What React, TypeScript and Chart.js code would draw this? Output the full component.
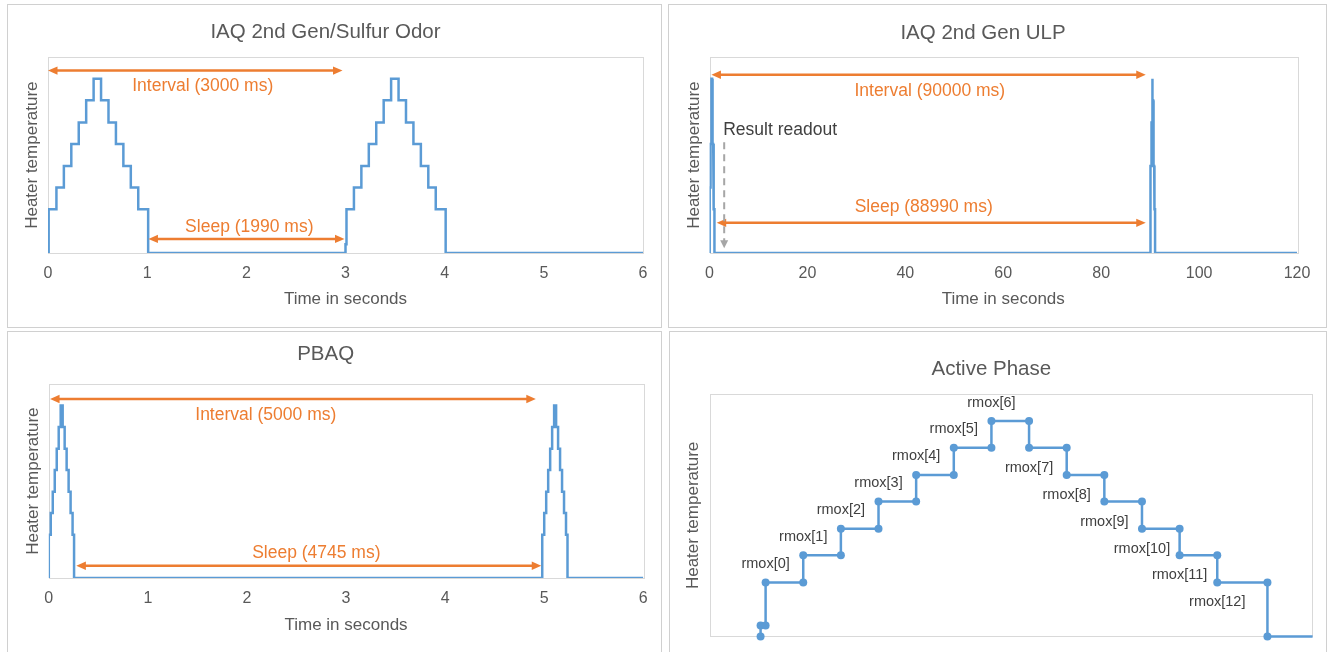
import React, { useEffect, useRef } from 'react';
import { Chart, registerables } from 'chart.js';

Chart.register(...registerables);

const FONT = '"Liberation Sans", Arial, Helvetica, sans-serif';
const BLUE = '#5B9BD5';
const ORANGE = '#ED7D31';
const GRAY_TEXT = '#595959';
const DARK_TEXT = '#404040';
const BORDER = '#D9D9D9';

// ---- Data ----
// One active phase (IAQ 2nd Gen / ULP): step start times in ms and heater levels (relative, 0..100)
const stepStartMs = [0, 10, 85, 160, 235, 310, 385, 460, 535, 610, 685, 760, 835, 910];
const stepLevels = [4.5, 22.3, 33.5, 44.5, 55.7, 66.7, 78, 89, 78, 66.7, 55.7, 44.5, 33.5, 22.3];
const activeEndMs = 1010;
const rmoxLabels = [
  'rmox[0]', 'rmox[1]', 'rmox[2]', 'rmox[3]', 'rmox[4]', 'rmox[5]', 'rmox[6]',
  'rmox[7]', 'rmox[8]', 'rmox[9]', 'rmox[10]', 'rmox[11]', 'rmox[12]',
];

// PBAQ active phase: step start times in s and levels
const pbaqStepStart = [0, 0.02, 0.04, 0.06, 0.08, 0.1, 0.12, 0.14, 0.16, 0.18, 0.2, 0.22, 0.24];
const pbaqLevels = [22.3, 33.5, 44.5, 55.7, 66.7, 78, 89, 78, 66.7, 55.7, 44.5, 33.5, 22.3];
const pbaqActiveEnd = 0.255;

// Cycle start times (s)
const iaqCycles = [0, 3];
const ulpCycles = [0, 90];
const pbaqCycles = [0, 4.98];

// Axis ticks [min, max, step]
const iaqTicks = [0, 6, 1];
const ulpTicks = [0, 120, 20];
const pbaqTicks = [0, 6, 1];

type Pt = { x: number; y: number };

function cyclePoints(starts: number[], levels: number[], end: number, offset: number): Pt[] {
  const pts: Pt[] = [{ x: offset + starts[0], y: 0 }];
  for (let i = 0; i < starts.length; i++) {
    const s = offset + starts[i];
    const e = offset + (i + 1 < starts.length ? starts[i + 1] : end);
    pts.push({ x: s, y: levels[i] });
    pts.push({ x: e, y: levels[i] });
  }
  pts.push({ x: offset + end, y: 0 });
  return pts;
}

function seriesPoints(cycles: number[], starts: number[], levels: number[], end: number, axisMax: number): Pt[] {
  let pts: Pt[] = [];
  cycles.forEach((c) => {
    pts = pts.concat(cyclePoints(starts, levels, end, c));
  });
  pts.push({ x: axisMax, y: 0 });
  return pts;
}

const secStarts = stepStartMs.map((v) => v / 1000);
const secEnd = activeEndMs / 1000;

type HArrow = { x0: number; x1: number; y: number };
type VArrow = { x: number; y0: number; y1: number };
type Txt = { x: number; y: number; text: string; color: string; align?: CanvasTextAlign; size?: number };

function drawHead(ctx: CanvasRenderingContext2D, tx: number, ty: number, dx: number, dy: number, len: number, half: number) {
  const bx = tx - dx * len;
  const by = ty - dy * len;
  ctx.beginPath();
  ctx.moveTo(tx, ty);
  ctx.lineTo(bx - dy * half, by + dx * half);
  ctx.lineTo(bx + dy * half, by - dx * half);
  ctx.closePath();
  ctx.fill();
}

function makeAnnotPlugin(h: HArrow[], v: VArrow[], texts: Txt[], stepLabels: boolean) {
  return {
    id: 'annots',
    beforeDatasetsDraw(chart: any) {
      const { ctx, chartArea } = chart;
      ctx.save();
      ctx.strokeStyle = BORDER;
      ctx.lineWidth = 1;
      ctx.strokeRect(
        Math.round(chartArea.left) + 0.5,
        Math.round(chartArea.top) + 0.5,
        Math.round(chartArea.right - chartArea.left),
        Math.round(chartArea.bottom - chartArea.top)
      );
      ctx.restore();
    },
    afterDatasetsDraw(chart: any) {
      const { ctx } = chart;
      const xs = chart.scales.x;
      const ys = chart.scales.y;
      ctx.save();
      ctx.strokeStyle = ORANGE;
      ctx.fillStyle = ORANGE;
      ctx.lineWidth = 2.5;
      h.forEach((a) => {
        const px0 = xs.getPixelForValue(a.x0);
        const px1 = xs.getPixelForValue(a.x1);
        const py = ys.getPixelForValue(a.y);
        ctx.beginPath();
        ctx.moveTo(px0 + 6, py);
        ctx.lineTo(px1 - 6, py);
        ctx.stroke();
        drawHead(ctx, px0, py, -1, 0, 9.5, 4.2);
        drawHead(ctx, px1, py, 1, 0, 9.5, 4.2);
      });
      v.forEach((a) => {
        const px = xs.getPixelForValue(a.x);
        const py0 = ys.getPixelForValue(a.y0);
        const py1 = ys.getPixelForValue(a.y1);
        ctx.strokeStyle = '#A6A6A6';
        ctx.fillStyle = '#A6A6A6';
        ctx.lineWidth = 2;
        ctx.setLineDash([7, 5]);
        ctx.beginPath();
        ctx.moveTo(px, py0);
        ctx.lineTo(px, py1 - 7);
        ctx.stroke();
        ctx.setLineDash([]);
        drawHead(ctx, px, py1, 0, 1, 8, 4);
      });
      ctx.textBaseline = 'middle';
      texts.forEach((t) => {
        ctx.fillStyle = t.color;
        ctx.textAlign = t.align || 'center';
        ctx.font = `${t.size || 17.5}px ${FONT}`;
        ctx.fillText(t.text, xs.getPixelForValue(t.x), ys.getPixelForValue(t.y));
      });
      if (stepLabels) {
        ctx.fillStyle = DARK_TEXT;
        ctx.textAlign = 'center';
        ctx.font = `14.5px ${FONT}`;
        rmoxLabels.forEach((lab, i) => {
          const px = xs.getPixelForValue(stepStartMs[i + 1]);
          const py = ys.getPixelForValue(stepLevels[i + 1]);
          const off = i <= 6 ? -18.5 : 20;
          ctx.fillText(lab, px, py + off);
        });
      }
      ctx.restore();
    },
  };
}

type PanelCfg = {
  left: number;
  top: number;
  width: number;
  height: number;
  title: string;
  titlePad: [number, number];
  yWidth: number;
  yTitlePad: number;
  rightPad: number;
  xHeight: number;
  xTitlePad: number;
  ticks: number[] | null;
  xMin: number;
  xMax: number;
  points: Pt[];
  radii?: number[];
  h: HArrow[];
  v: VArrow[];
  texts: Txt[];
  stepLabels?: boolean;
};

function Panel({ cfg }: { cfg: PanelCfg }) {
  const ref = useRef<HTMLCanvasElement | null>(null);
  const cw = cfg.width - 2;
  const ch = cfg.height - 2;
  useEffect(() => {
    if (!ref.current) return;
    const hasTicks = !!cfg.ticks;
    const chart = new Chart(ref.current, {
      type: 'line',
      data: {
        datasets: [
          {
            data: cfg.points as any,
            borderColor: BLUE,
            borderWidth: 2.5,
            pointRadius: cfg.radii || 0,
            pointBackgroundColor: BLUE,
            pointBorderColor: BLUE,
            pointBorderWidth: 0,
            fill: false,
            tension: 0,
            clip: cfg.radii ? false : undefined,
          },
        ],
      },
      options: {
        responsive: false,
        maintainAspectRatio: false,
        animation: false,
        events: [],
        layout: { padding: { left: 0, right: cfg.rightPad, top: 0, bottom: 0 } },
        plugins: {
          legend: { display: false },
          tooltip: { enabled: false },
          title: {
            display: true,
            text: cfg.title,
            color: GRAY_TEXT,
            font: { family: FONT, size: 20.5, weight: 'normal' },
            padding: { top: cfg.titlePad[0], bottom: cfg.titlePad[1] },
          },
        },
        scales: {
          x: {
            type: 'linear',
            display: hasTicks,
            min: cfg.xMin,
            max: cfg.xMax,
            grid: { display: false, drawTicks: false },
            border: { display: false },
            ticks: {
              stepSize: hasTicks ? cfg.ticks![2] : undefined,
              color: GRAY_TEXT,
              font: { family: FONT, size: 16 },
              padding: 11,
              maxRotation: 0,
            },
            title: {
              display: hasTicks,
              text: 'Time in seconds',
              color: GRAY_TEXT,
              font: { family: FONT, size: 17 },
              padding: { top: 0, bottom: cfg.xTitlePad },
            },
            afterFit: (s: any) => {
              s.height = cfg.xHeight;
            },
          },
          y: {
            min: 0,
            max: 100,
            grid: { display: false, drawTicks: false },
            border: { display: false },
            ticks: { display: false },
            title: {
              display: true,
              text: 'Heater temperature',
              color: GRAY_TEXT,
              font: { family: FONT, size: 17 },
              padding: { top: cfg.yTitlePad, bottom: 0 },
            },
            afterFit: (s: any) => {
              s.width = cfg.yWidth;
            },
          },
        },
      } as any,
      plugins: [makeAnnotPlugin(cfg.h, cfg.v, cfg.texts, !!cfg.stepLabels) as any],
    });
    return () => chart.destroy();
  }, []);
  return (
    <div
      style={{
        position: 'absolute',
        left: cfg.left,
        top: cfg.top,
        width: cfg.width,
        height: cfg.height,
        border: '1px solid #D0D0D0',
        boxSizing: 'border-box',
        background: '#fff',
      }}
    >
      <canvas ref={ref} width={cw} height={ch} style={{ display: 'block', width: cw, height: ch }} />
    </div>
  );
}

const activePoints: Pt[] = cyclePoints(stepStartMs, stepLevels, activeEndMs, 0).concat([{ x: 1100, y: 0 }]);
const activeRadii = activePoints.map((_, i) => (i === activePoints.length - 1 ? 0 : 4));

const panels: PanelCfg[] = [
  {
    left: 7, top: 4, width: 655, height: 324,
    title: 'IAQ 2nd Gen/Sulfur Odor', titlePad: [14.6, 13.1],
    yWidth: 40, yTitlePad: 14, rightPad: 18, xHeight: 74, xTitlePad: 17,
    ticks: iaqTicks, xMin: iaqTicks[0], xMax: iaqTicks[1],
    points: seriesPoints(iaqCycles, secStarts, stepLevels, secEnd, iaqTicks[1]),
    h: [
      { x0: 0, x1: 2.97, y: 93.2 },
      { x0: 1.013, x1: 2.99, y: 7.2 },
    ],
    v: [],
    texts: [
      { x: 1.56, y: 85, text: 'Interval (3000 ms)', color: ORANGE },
      { x: 2.03, y: 13.3, text: 'Sleep (1990 ms)', color: ORANGE },
    ],
  },
  {
    left: 668, top: 4, width: 659, height: 324,
    title: 'IAQ 2nd Gen ULP', titlePad: [16.3, 11.4],
    yWidth: 40.5, yTitlePad: 15.5, rightPad: 29, xHeight: 74, xTitlePad: 17,
    ticks: ulpTicks, xMin: ulpTicks[0], xMax: ulpTicks[1],
    points: seriesPoints(ulpCycles, secStarts, stepLevels, secEnd, ulpTicks[1]),
    h: [
      { x0: 0.4, x1: 89.1, y: 91.1 },
      { x0: 1.47, x1: 89.1, y: 15.4 },
    ],
    v: [{ x: 3.0, y0: 56.6, y1: 2.4 }],
    texts: [
      { x: 45, y: 82.7, text: 'Interval (90000 ms)', color: ORANGE },
      { x: 2.8, y: 62.8, text: 'Result readout', color: DARK_TEXT, align: 'left' },
      { x: 43.75, y: 23.6, text: 'Sleep (88990 ms)', color: ORANGE },
    ],
  },
  {
    left: 7, top: 331, width: 655, height: 322,
    title: 'PBAQ', titlePad: [10, 17.7],
    yWidth: 40.8, yTitlePad: 15, rightPad: 17.7, xHeight: 74, xTitlePad: 16.3,
    ticks: pbaqTicks, xMin: pbaqTicks[0], xMax: pbaqTicks[1],
    points: seriesPoints(pbaqCycles, pbaqStepStart, pbaqLevels, pbaqActiveEnd, pbaqTicks[1]),
    h: [
      { x0: 0.013, x1: 4.915, y: 92.4 },
      { x0: 0.278, x1: 4.97, y: 6.3 },
    ],
    v: [],
    texts: [
      { x: 2.19, y: 84.2, text: 'Interval (5000 ms)', color: ORANGE },
      { x: 2.7, y: 13, text: 'Sleep (4745 ms)', color: ORANGE },
    ],
  },
  {
    left: 669, top: 331, width: 658, height: 322,
    title: 'Active Phase', titlePad: [25.5, 12.3],
    yWidth: 40.4, yTitlePad: 13.6, rightPad: 13.4, xHeight: 15.6, xTitlePad: 0,
    ticks: null, xMin: -100, xMax: 1100,
    points: activePoints,
    radii: activeRadii,
    h: [],
    v: [],
    texts: [],
    stepLabels: true,
  },
];

export default function App() {
  useEffect(() => {
    document.body.style.overflow = 'hidden';
  }, []);
  return (
    <div
      style={{
        position: 'absolute',
        left: 0,
        top: 0,
        width: 1330,
        height: 652,
        overflow: 'hidden',
        background: '#fff',
        fontFamily: FONT,
      }}
    >
      {panels.map((p, i) => (
        <Panel key={i} cfg={p} />
      ))}
    </div>
  );
}
